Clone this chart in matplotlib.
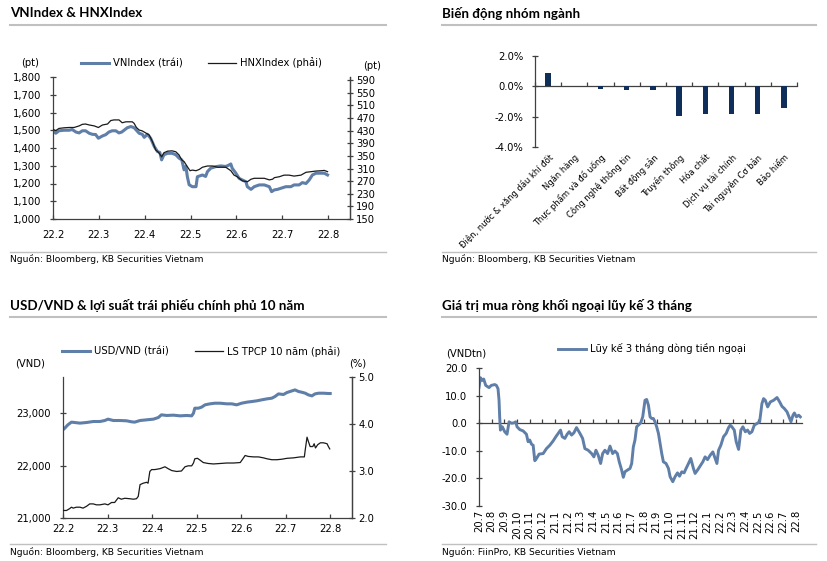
import numpy as np
import matplotlib
matplotlib.use("Agg")
import matplotlib.pyplot as plt
from matplotlib.lines import Line2D
from matplotlib.ticker import FuncFormatter

plt.rcParams['font.family'] = ['DejaVu Sans']
plt.rcParams['axes.linewidth'] = 0.9

BLUE = '#5f7ea8'
NAVY = '#0f2f5a'
AXC = '#404040'
GREY = '#c0c0c0'
TITLE_FONT = ['Lato', 'DejaVu Sans']

# ---- VNIndex & HNXIndex (x = tháng kể từ 22.2) ----
vn_x = [0.00, 0.06, 0.13, 0.24, 0.35, 0.42, 0.50, 0.57, 0.64, 0.71, 0.79, 0.86, 0.93, 0.99,
        1.08, 1.15, 1.22, 1.29, 1.37, 1.44, 1.50, 1.55, 1.62, 1.70, 1.77, 1.82, 1.88, 1.95,
        1.99, 2.06, 2.13, 2.21, 2.28, 2.33, 2.37, 2.42, 2.50, 2.60, 2.68, 2.75, 2.81, 2.86,
        2.90, 2.93, 2.97, 3.04, 3.12, 3.15, 3.26, 3.33, 3.37, 3.44, 3.55, 3.66, 3.77, 3.84,
        3.88, 3.91, 3.99, 4.06, 4.13, 4.21, 4.24, 4.32, 4.39, 4.50, 4.61, 4.72, 4.77, 4.83,
        4.90, 4.97, 5.08, 5.19, 5.26, 5.37, 5.44, 5.52, 5.59, 5.66, 5.74, 5.85, 5.92, 5.99]
vn_y = [1497, 1483, 1497, 1500, 1500, 1504, 1490, 1485, 1497, 1497, 1483, 1477, 1476, 1455,
        1468, 1475, 1490, 1497, 1497, 1485, 1490, 1500, 1514, 1521, 1514, 1500, 1483, 1477,
        1460, 1477, 1455, 1408, 1380, 1375, 1333, 1362, 1370, 1370, 1362, 1343, 1333, 1277,
        1296, 1240, 1193, 1182, 1182, 1238, 1248, 1240, 1267, 1286, 1295, 1299, 1296, 1304,
        1310, 1286, 1258, 1229, 1220, 1210, 1182, 1167, 1182, 1192, 1192, 1182, 1154, 1164,
        1167, 1173, 1182, 1182, 1192, 1192, 1205, 1200, 1220, 1248, 1258, 1258, 1258, 1248]
hnx_x = [0.00, 0.06, 0.13, 0.24, 0.35, 0.46, 0.57, 0.64, 0.71, 0.79, 0.90, 0.99, 1.08, 1.19,
         1.26, 1.33, 1.44, 1.51, 1.59, 1.70, 1.73, 1.77, 1.82, 1.88, 1.95, 2.02, 2.10, 2.17,
         2.24, 2.31, 2.37, 2.42, 2.50, 2.60, 2.68, 2.75, 2.81, 2.86, 2.93, 2.99, 3.04, 3.12,
         3.19, 3.26, 3.37, 3.48, 3.59, 3.77, 3.88, 3.95, 4.02, 4.13, 4.24, 4.32, 4.39, 4.50,
         4.61, 4.72, 4.79, 4.83, 4.94, 5.04, 5.15, 5.26, 5.41, 5.52, 5.63, 5.74, 5.85, 5.92, 5.99]
hnx_y = [434, 430, 437, 439, 440, 440, 445, 450, 451, 448, 445, 440, 448, 451, 462, 464, 464,
         455, 458, 458, 458, 453, 440, 432, 429, 423, 416, 395, 369, 360, 347, 360, 365, 366,
         363, 353, 337, 332, 316, 303, 305, 303, 307, 314, 318, 318, 314, 314, 303, 289, 284,
         271, 268, 276, 279, 279, 279, 274, 276, 281, 284, 289, 289, 286, 289, 298, 300, 302,
         303, 304, 300]

# ---- Biến động nhóm ngành ----
sectors = ['Điện, nước & xăng dầu khí đốt', 'Ngân hàng', 'Thực phẩm và đồ uống',
           'Công nghệ thông tin', 'Bất động sản', 'Truyền thông', 'Hóa chất',
           'Dịch vụ tài chính', 'Tài nguyên Cơ bản', 'Bảo hiểm']
sector_chg = [0.86, 0.02, -0.20, -0.25, -0.25, -1.93, -1.85, -1.80, -1.80, -1.41]

# ---- USD/VND & LS TPCP 10 năm ----
usd_x = [0.00, 0.04, 0.11, 0.19, 0.26, 0.38, 0.53, 0.68, 0.83, 0.94, 1.01, 1.13, 1.28, 1.43,
         1.54, 1.61, 1.73, 1.88, 2.03, 2.14, 2.21, 2.33, 2.48, 2.63, 2.78, 2.89, 2.93, 2.96,
         3.04, 3.11, 3.19, 3.30, 3.41, 3.53, 3.68, 3.79, 3.90, 4.01, 4.13, 4.24, 4.35, 4.46,
         4.58, 4.69, 4.76, 4.84, 4.95, 5.03, 5.14, 5.21, 5.29, 5.36, 5.44, 5.51, 5.59, 5.66,
         5.74, 5.85, 5.96, 6.00]
usd_y = [22683, 22714, 22778, 22829, 22822, 22810, 22822, 22841, 22841, 22860, 22886, 22860,
         22860, 22854, 22835, 22829, 22860, 22873, 22886, 22917, 22968, 22956, 22962, 22949,
         22956, 22949, 23000, 23095, 23095, 23114, 23159, 23178, 23190, 23190, 23178, 23178,
         23159, 23190, 23210, 23222, 23235, 23254, 23273, 23286, 23317, 23368, 23356, 23394,
         23425, 23444, 23413, 23400, 23381, 23349, 23330, 23368, 23381, 23381, 23375, 23375]
bond_x = [0.00, 0.08, 0.15, 0.19, 0.23, 0.30, 0.38, 0.45, 0.53, 0.60, 0.68, 0.75, 0.83, 0.94,
          1.01, 1.09, 1.16, 1.24, 1.31, 1.39, 1.50, 1.58, 1.65, 1.69, 1.73, 1.80, 1.88, 1.91,
          1.95, 1.99, 2.06, 2.18, 2.29, 2.36, 2.44, 2.55, 2.66, 2.74, 2.81, 2.89, 2.93, 2.96,
          3.02, 3.08, 3.15, 3.26, 3.38, 3.53, 3.68, 3.83, 3.98, 4.04, 4.09, 4.16, 4.28, 4.39,
          4.50, 4.58, 4.69, 4.80, 4.91, 5.03, 5.18, 5.33, 5.42, 5.44, 5.48, 5.51, 5.55, 5.61,
          5.64, 5.67, 5.72, 5.78, 5.85, 5.93, 5.96, 5.99]
bond_y = [2.16, 2.16, 2.20, 2.23, 2.21, 2.23, 2.23, 2.21, 2.25, 2.30, 2.30, 2.28, 2.28, 2.30,
          2.28, 2.33, 2.33, 2.43, 2.40, 2.42, 2.41, 2.40, 2.41, 2.46, 2.71, 2.74, 2.76, 2.74,
          2.99, 3.03, 3.03, 3.05, 3.09, 3.05, 3.01, 2.99, 3.00, 3.09, 3.11, 3.11, 3.17, 3.26,
          3.27, 3.23, 3.18, 3.16, 3.15, 3.16, 3.17, 3.17, 3.18, 3.26, 3.33, 3.31, 3.30, 3.30,
          3.28, 3.26, 3.24, 3.24, 3.25, 3.27, 3.28, 3.30, 3.30, 3.45, 3.72, 3.63, 3.52, 3.52,
          3.58, 3.49, 3.56, 3.60, 3.60, 3.58, 3.52, 3.47]
month_labels_6 = ['22.2', '22.3', '22.4', '22.5', '22.6', '22.7', '22.8']

# ---- Lũy kế 3 tháng dòng tiền ngoại (x = tháng kể từ 20.7) ----
flow_x = [0.00, 0.11, 0.26, 0.37, 0.53, 0.79, 0.97, 1.24, 1.37, 1.50, 1.58, 1.63, 1.69, 1.84,
          2.03, 2.21, 2.37, 2.56, 2.74, 2.90, 3.00, 3.21, 3.48, 3.74, 3.87, 4.00, 4.14, 4.27,
          4.40, 4.53, 4.74, 5.06, 5.32, 5.58, 5.85, 6.06, 6.24, 6.43, 6.56, 6.77, 6.95, 7.11,
          7.30, 7.48, 7.69, 7.96, 8.17, 8.35, 8.61, 8.88, 9.06, 9.22, 9.40, 9.59, 9.75, 9.93,
          10.14, 10.33, 10.54, 10.72, 10.91, 11.06, 11.25, 11.38, 11.51, 11.70, 11.91, 12.04,
          12.17, 12.30, 12.43, 12.57, 12.75, 12.91, 13.09, 13.22, 13.36, 13.49, 13.62, 13.75,
          13.88, 14.01, 14.15, 14.28, 14.41, 14.54, 14.75, 14.94, 15.07, 15.28, 15.46, 15.65,
          15.81, 15.99, 16.17, 16.33, 16.52, 16.70, 16.91, 17.04, 17.23, 17.44, 17.65, 17.83,
          18.02, 18.23, 18.44, 18.62, 18.76, 18.89, 19.07, 19.28, 19.49, 19.68, 19.81, 19.94,
          20.13, 20.28, 20.47, 20.65, 20.81, 21.00, 21.18, 21.34, 21.52, 21.71, 21.92, 22.13,
          22.31, 22.44, 22.58, 22.76, 22.97, 23.23, 23.50, 23.71, 23.89, 24.08, 24.29, 24.50,
          24.60, 24.76, 24.87, 25.03, 25.21, 25.34]
flow_y = [13.0, 16.5, 15.5, 16.0, 13.7, 12.9, 13.7, 14.0, 13.7, 12.5, 8.3, 2.3, -2.5, -1.3,
          -3.1, -4.0, 0.5, 0.0, 0.1, 0.5, -1.3, -2.3, -2.8, -4.0, -6.7, -6.1, -7.6, -8.0,
          -13.6, -12.8, -11.2, -11.0, -9.2, -8.0, -6.4, -4.9, -3.7, -2.5, -4.9, -5.5, -4.0, -3.1,
          -4.3, -3.5, -1.6, -3.7, -5.5, -9.2, -9.8, -11.0, -12.2, -9.8, -11.6, -14.6, -11.0, -9.8,
          -11.0, -8.3, -11.0, -10.1, -11.0, -14.0, -17.0, -19.6, -17.6, -17.0, -16.4, -14.6,
          -8.6, -6.1, -1.3, -0.7, 0.1, 2.3, 8.3, 8.6, 6.5, 2.3, 1.7, 1.7,
          0.5, -1.3, -3.7, -7.3, -11.0, -14.0, -14.6, -16.4, -19.4, -21.2, -19.4, -18.0,
          -19.2, -17.6, -18.0, -16.4, -14.6, -12.8, -16.4, -18.2, -17.0, -15.5, -14.0, -12.2,
          -13.2, -11.6, -10.4, -12.8, -14.6, -9.8, -8.0, -4.9, -3.7, -1.6, -0.7, -1.3,
          -2.5, -6.7, -9.5, -2.5, -1.3, -3.1, -2.5, -3.7, -3.1, -0.7, -0.1, 0.5,
          7.1, 8.9, 8.3, 5.9, 7.7, 8.3, 9.3, 7.7, 6.1, 5.3, 4.1, 1.7,
          0.5, 2.9, 3.7, 2.3, 2.9, 2.3]
flow_labels = ['20.7', '20.8', '20.9', '20.10', '20.11', '20.12', '21.1', '21.2', '21.3',
               '21.4', '21.5', '21.6', '21.7', '21.8', '21.9', '21.10', '21.11', '21.12',
               '22.1', '22.2', '22.3', '22.4', '22.5', '22.6', '22.7', '22.8']

TICK_FS = 7.2
W, H = 827, 561


def box(x0, y0, x1, y1):
    # pixel box (top-left origin) -> figure fraction rect
    return [x0 / W, 1 - y1 / H, (x1 - x0) / W, (y1 - y0) / H]


def style_axes(ax, spines=('left', 'bottom'), xpad=4):
    for s in ax.spines:
        ax.spines[s].set_visible(s in spines)
        ax.spines[s].set_color(AXC)
    ax.tick_params(axis='y', direction='inout', length=5, width=0.9, color=AXC,
                   labelsize=TICK_FS, pad=6)
    ax.tick_params(axis='x', direction='in', length=3, width=0.9, color=AXC,
                   labelsize=TICK_FS, pad=xpad)


def style_right(axr):
    for s in axr.spines:
        axr.spines[s].set_visible(s == 'right')
        axr.spines[s].set_color(AXC)
    axr.tick_params(axis='y', direction='inout', length=5, width=0.9, color=AXC,
                    labelsize=TICK_FS, pad=2)


fig = plt.figure(figsize=(W / 100, H / 100), dpi=100)

# titles, rules, sources
for (tx, ty, title) in [(10, 13, 'VNIndex & HNXIndex'), (442, 13, 'Biến động nhóm ngành'),
                        (10, 306, 'USD/VND & lợi suất trái phiếu chính phủ 10 năm'),
                        (442, 306, 'Giá trị mua ròng khối ngoại lũy kế 3 tháng')]:
    fig.text(tx / W, 1 - ty / H, title, family=TITLE_FONT, weight='bold', fontsize=9.6,
             va='center', ha='left')
for (x0, x1, yy) in [(10, 386, 25), (442, 816, 25), (10, 386, 317), (442, 816, 317)]:
    fig.add_artist(Line2D([x0 / W, x1 / W], [1 - yy / H] * 2, color=GREY, lw=1.5))
for (x0, x1, yy) in [(10, 386, 252), (442, 816, 252), (10, 386, 544), (442, 816, 544)]:
    fig.add_artist(Line2D([x0 / W, x1 / W], [1 - yy / H] * 2, color=GREY, lw=1.0))
for (tx, ty, src) in [(10, 259, 'Nguồn: Bloomberg, KB Securities Vietnam'),
                      (442, 259, 'Nguồn: Bloomberg, KB Securities Vietnam'),
                      (10, 552, 'Nguồn: Bloomberg, KB Securities Vietnam'),
                      (442, 552, 'Nguồn: FiinPro, KB Securities Vietnam')]:
    fig.text(tx / W, 1 - ty / H, src, fontsize=6.6, va='center', ha='left')

# ---------- 1) VNIndex & HNXIndex ----------
ax1 = fig.add_axes(box(53, 77, 350, 219))
ax1.plot(vn_x, vn_y, color=BLUE, lw=2.2, label='VNIndex (trái)')
ax1.set_ylim(1000, 1800)
ax1.set_yticks(np.arange(1000, 1801, 100))
ax1.yaxis.set_major_formatter(FuncFormatter(lambda v, p: f'{int(v):,}'))
ax1.set_xlim(0, 6.48)
ax1.set_xticks(range(7))
ax1.set_xticklabels(month_labels_6)
style_axes(ax1, ('left', 'bottom', 'right'), xpad=8)
ax1b = ax1.twinx()
ax1b.plot(hnx_x, hnx_y, color='#1a1a1a', lw=0.9, label='HNXIndex (phải)')
ax1b.set_ylim(150, 600)
ax1b.set_yticks(np.arange(150, 600, 40))
style_right(ax1b)
h1 = ax1.get_lines() + ax1b.get_lines()
ax1.legend(h1, [l.get_label() for l in h1], loc='center', bbox_to_anchor=(0.5, 1.10),
           ncol=2, frameon=False, fontsize=7.2, handlelength=2.8, handletextpad=0.4,
           columnspacing=2.6, borderpad=0)
fig.text(30 / W, 1 - 63 / H, '(pt)', fontsize=TICK_FS, ha='center', va='center')
fig.text(372 / W, 1 - 66 / H, '(pt)', fontsize=TICK_FS, ha='center', va='center')

# ---------- 2) Biến động nhóm ngành ----------
ax2 = fig.add_axes(box(535, 56, 797, 147))
pos = np.arange(len(sectors))
ax2.bar(pos, sector_chg, width=0.2, color=NAVY)
ax2.set_ylim(-4, 2)
ax2.set_yticks([2, 0, -2, -4])
ax2.yaxis.set_major_formatter(FuncFormatter(lambda v, p: f'{v:.1f}%'))
ax2.set_xlim(-0.5, len(sectors) - 0.5)
style_axes(ax2, ('left',))
ax2.set_xticks(pos)
ax2.set_xticklabels(sectors, rotation=45, ha='right', va='top', rotation_mode='anchor',
                    fontsize=6.0)
ax2.tick_params(axis='x', length=0, pad=4)
sec2 = ax2.secondary_xaxis(4 / 6)
sec2.set_xticks(np.arange(-0.5, len(sectors), 1.0))
sec2.tick_params(direction='out', length=3, width=0.9, color=AXC,
                 labeltop=False, labelbottom=False)
for s in sec2.spines.values():
    s.set_color(AXC)

# ---------- 3) USD/VND & LS TPCP ----------
ax3 = fig.add_axes(box(63, 377, 352, 518))
ax3.plot(usd_x, usd_y, color=BLUE, lw=2.2, label='USD/VND (trái)')
ax3.set_ylim(21000, 23690)
ax3.set_yticks([21000, 22000, 23000])
ax3.yaxis.set_major_formatter(FuncFormatter(lambda v, p: f'{int(v):,}'))
ax3.set_xlim(0, 6.49)
ax3.set_xticks(range(7))
ax3.set_xticklabels(month_labels_6)
style_axes(ax3, ('left', 'bottom', 'right'))
ax3b = ax3.twinx()
ax3b.plot(bond_x, bond_y, color='#1a1a1a', lw=0.9, label='LS TPCP 10 năm (phải)')
ax3b.set_ylim(2, 5)
ax3b.set_yticks([2, 3, 4, 5])
ax3b.yaxis.set_major_formatter(FuncFormatter(lambda v, p: f'{v:.1f}'))
style_right(ax3b)
h3 = ax3.get_lines() + ax3b.get_lines()
ax3.legend(h3, [l.get_label() for l in h3], loc='center', bbox_to_anchor=(0.478, 1.184),
           ncol=2, frameon=False, fontsize=7.2, handlelength=2.8, handletextpad=0.4,
           columnspacing=2.6, borderpad=0)
fig.text(30 / W, 1 - 363 / H, '(VND)', fontsize=TICK_FS, ha='center', va='center')
fig.text(358 / W, 1 - 363 / H, '(%)', fontsize=TICK_FS, ha='center', va='center')

# ---------- 4) Khối ngoại lũy kế 3 tháng ----------
ax4 = fig.add_axes(box(479, 368, 802, 506))
ax4.plot(flow_x, flow_y, color=BLUE, lw=2.1, label='Lũy kế 3 tháng dòng tiền ngoại')
ax4.set_ylim(-30, 20)
ax4.set_yticks(np.arange(-30, 21, 10))
ax4.yaxis.set_major_formatter(FuncFormatter(lambda v, p: f'{v:.1f}'))
ax4.set_xlim(0, 25.47)
style_axes(ax4, ('left',))
ax4.set_xticks(range(len(flow_labels)))
ax4.set_xticklabels(flow_labels, rotation=90, fontsize=TICK_FS)
ax4.tick_params(axis='x', length=0, pad=3)
sec4 = ax4.secondary_xaxis(0.6)
sec4.set_xticks(range(len(flow_labels)))
sec4.tick_params(direction='out', length=3, width=0.9, color=AXC,
                 labeltop=False, labelbottom=False)
for s in sec4.spines.values():
    s.set_color(AXC)
ax4.legend(loc='center', bbox_to_anchor=(0.536, 1.138), frameon=False, fontsize=7.2,
           handlelength=2.8, handletextpad=0.4, borderpad=0)
fig.text(466 / W, 1 - 353 / H, '(VNDtn)', fontsize=TICK_FS, ha='center', va='center')

fig.savefig('out.png', dpi=100)
